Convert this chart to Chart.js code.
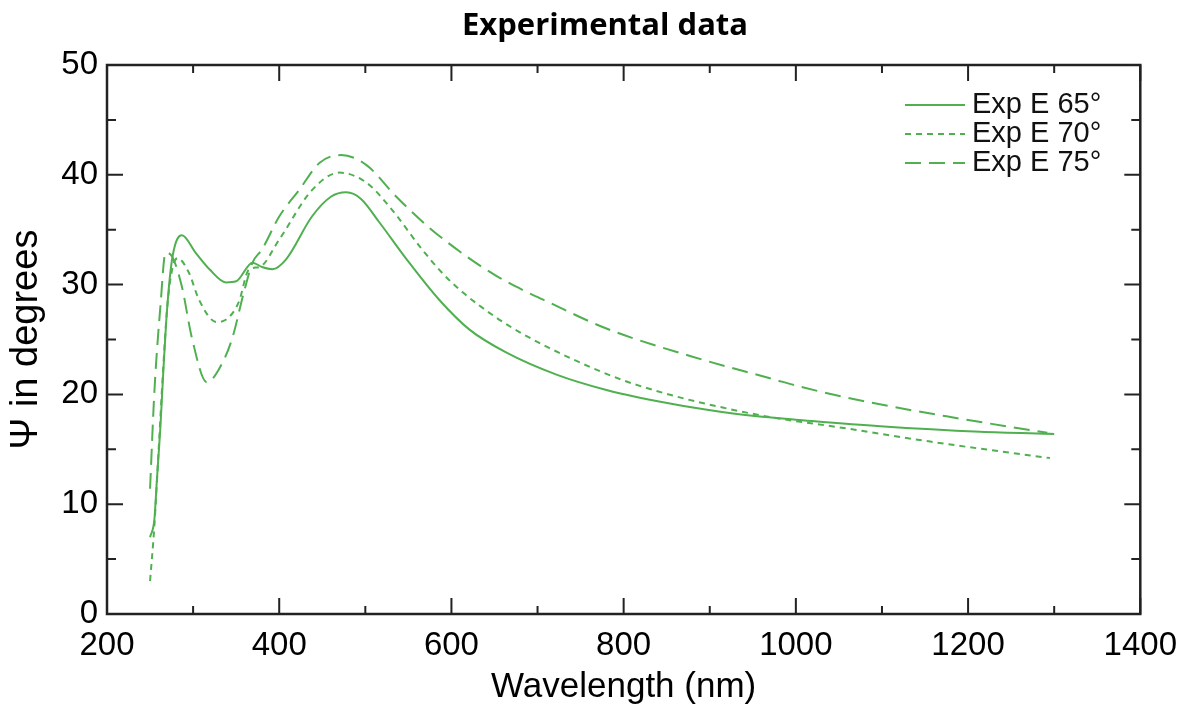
<!DOCTYPE html>
<html>
<head>
<meta charset="utf-8">
<script src="https://cdn.jsdelivr.net/npm/chart.js@4.4.1/dist/chart.umd.min.js"></script>
<style>
  html, body { margin: 0; padding: 0; background: #fff; }
  #wrap { width: 1189px; height: 711px; }
</style>
</head>
<body>
<div id="wrap"><canvas id="chart"></canvas></div>
<script>
// data
var title = "Experimental data";
var labels = ["Exp E 65°", "Exp E 70°", "Exp E 75°"];

var wl65 = [250, 255, 258, 262, 265, 270, 276, 287, 303, 319, 338, 350, 369, 380, 392, 408, 438, 460, 478, 495, 516, 548, 586, 621, 664, 722, 780, 838, 897, 955, 1000, 1098, 1214, 1300];
var psi65 = [7.0, 8.6, 12.3, 17.0, 21.5, 28.0, 32.5, 34.5, 32.9, 31.4, 30.2, 30.3, 32.0, 31.6, 31.4, 32.3, 36.2, 38.0, 38.4, 37.8, 35.7, 32.3, 28.6, 25.9, 23.8, 21.8, 20.4, 19.4, 18.6, 18.0, 17.7, 17.1, 16.6, 16.4];

var wl70 = [250, 255, 260, 265, 270, 276, 282, 295, 307, 327, 338, 353, 365, 377, 400, 438, 470, 501, 528, 566, 590, 613, 652, 683, 741, 799, 857, 915, 973, 1059, 1156, 1295];
var psi70 = [3.0, 8.0, 15.0, 22.0, 28.0, 31.5, 32.4, 31.1, 28.6, 26.6, 26.8, 28.4, 31.4, 31.6, 34.1, 38.6, 40.2, 39.3, 37.1, 33.2, 31.0, 29.3, 27.0, 25.5, 23.2, 21.3, 19.9, 18.8, 17.9, 16.9, 15.7, 14.2];

var wl75 = [250, 255, 262, 268, 276, 287, 299, 316, 330, 345, 359, 369, 380, 400, 423, 447, 472, 501, 536, 574, 617, 652, 683, 710, 780, 877, 973, 1005, 1078, 1175, 1292];
var psi75 = [11.4, 20.2, 28.0, 32.9, 32.5, 29.8, 25.0, 21.1, 22.3, 25.0, 29.3, 32.0, 33.2, 36.2, 38.6, 41.1, 41.8, 40.9, 38.0, 35.2, 32.6, 30.8, 29.5, 28.5, 26.0, 23.5, 21.4, 20.7, 19.4, 18.0, 16.5];

var xTicks = [200, 400, 600, 800, 1000, 1200, 1400];
var yTicks = [0, 10, 20, 30, 40, 50];

var green = 'rgb(80, 176, 80)';
var arial = '"Liberation Sans", Arial, sans-serif';

function pts(xs, ys) {
    return xs.map(function (v, i) { return {x: v, y: ys[i]}; });
}

// box round the plot with inward ticks on all four sides, title and legend
var frame = {
    id: 'frame',
    afterDatasetsDraw: function (chart) {
        var ctx = chart.ctx, a = chart.chartArea;
        var x = chart.scales.x, y = chart.scales.y;
        ctx.save();
        ctx.strokeStyle = '#222';
        ctx.lineWidth = 2.5;
        ctx.strokeRect(a.left, a.top, a.right - a.left, a.bottom - a.top);
        ctx.lineWidth = 2;
        ctx.beginPath();
        for (var v = 200; v <= 1400; v += 100) {
            var px = x.getPixelForValue(v);
            var len = (v % 200 === 0) ? 16 : 8;
            ctx.moveTo(px, a.bottom); ctx.lineTo(px, a.bottom - len);
            ctx.moveTo(px, a.top); ctx.lineTo(px, a.top + len);
        }
        for (var w = 0; w <= 50; w += 5) {
            var py = y.getPixelForValue(w);
            var l2 = (w % 10 === 0) ? 16 : 9;
            ctx.moveTo(a.left, py); ctx.lineTo(a.left + l2, py);
            ctx.moveTo(a.right, py); ctx.lineTo(a.right - l2, py);
        }
        ctx.stroke();
        ctx.restore();
    },
    afterDraw: function (chart) {
        var ctx = chart.ctx;
        ctx.save();
        ctx.fillStyle = '#000';
        ctx.textAlign = 'center';
        ctx.textBaseline = 'middle';
        ctx.font = 'bold 31px "Open Sans", sans-serif';
        ctx.fillText(title, 605, 26);

        ctx.textAlign = 'left';
        ctx.font = '29px ' + arial;
        ctx.fillStyle = '#111';
        chart.data.datasets.forEach(function (ds, i) {
            var ly = 105 + i * 29;
            ctx.strokeStyle = ds.borderColor;
            ctx.lineWidth = ds.borderWidth;
            ctx.setLineDash(ds.borderDash || []);
            ctx.beginPath();
            ctx.moveTo(905, ly);
            ctx.lineTo(965, ly);
            ctx.stroke();
            ctx.setLineDash([]);
            ctx.fillText(ds.label, 972, ly);
        });
        ctx.restore();
    }
};

var ctx = document.getElementById('chart').getContext('2d');
new Chart(ctx, {
    type: 'line',
    data: {
        datasets: [{
            label: labels[0],
            data: pts(wl65, psi65),
            borderColor: green,
            borderWidth: 2,
            borderDash: []
        }, {
            label: labels[1],
            data: pts(wl70, psi70),
            borderColor: green,
            borderWidth: 2,
            borderDash: [6, 5]
        }, {
            label: labels[2],
            data: pts(wl75, psi75),
            borderColor: green,
            borderWidth: 2,
            borderDash: [16, 8]
        }]
    },
    options: {
        responsive: true,
        maintainAspectRatio: false,
        animation: false,
        elements: {
            point: {radius: 0},
            line: {cubicInterpolationMode: 'monotone'}
        },
        layout: {
            padding: {left: 0, right: 48, top: 65, bottom: 0}
        },
        plugins: {
            legend: {display: false},
            tooltip: {enabled: false},
            title: {display: false}
        },
        scales: {
            x: {
                type: 'linear',
                min: 200,
                max: 1400,
                afterBuildTicks: function (s) {
                    s.ticks = xTicks.map(function (v) { return {value: v}; });
                },
                afterFit: function (s) { s.height = 97; },
                grid: {display: false, drawTicks: false},
                border: {display: false},
                ticks: {
                    color: '#000',
                    padding: 12,
                    maxRotation: 0,
                    callback: function (v) { return String(v); },
                    font: {family: arial, size: 33}
                },
                title: {
                    display: true,
                    text: 'Wavelength (nm)',
                    color: '#000',
                    font: {family: arial, size: 35},
                    padding: {top: 0, bottom: 3}
                }
            },
            y: {
                type: 'linear',
                min: 0,
                max: 50,
                afterBuildTicks: function (s) {
                    s.ticks = yTicks.map(function (v) { return {value: v}; });
                },
                afterFit: function (s) { s.width = 107; },
                grid: {display: false, drawTicks: false},
                border: {display: false},
                ticks: {
                    color: '#000',
                    padding: 9,
                    callback: function (v) { return String(v); },
                    font: {family: arial, size: 33}
                },
                title: {
                    display: true,
                    text: 'Ψ in degrees',
                    color: '#000',
                    font: {family: arial, size: 38},
                    padding: {top: 4, bottom: 0}
                }
            }
        }
    },
    plugins: [frame]
});
</script>
</body>
</html>
